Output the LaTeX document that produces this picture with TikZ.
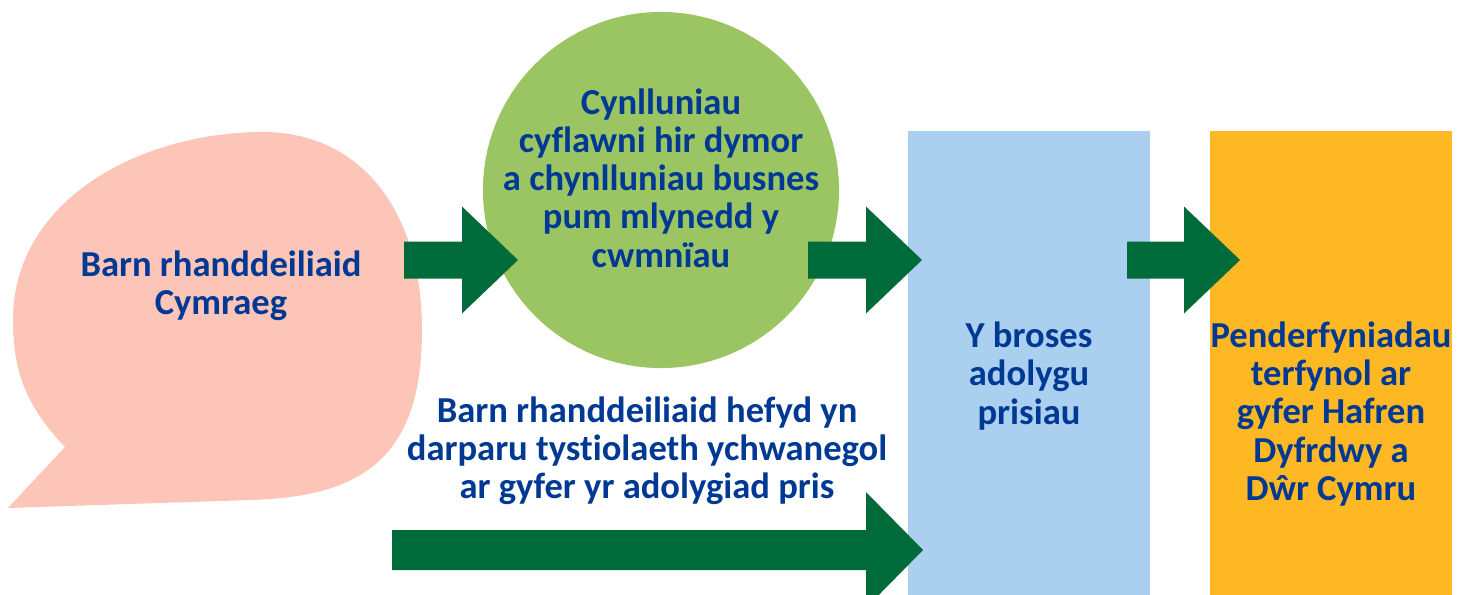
\documentclass[tikz,border=0pt]{standalone}
\usepackage{fontspec}
\setmainfont[Ligatures={NoCommon}]{Carlito}
\usetikzlibrary{calc}
\definecolor{opinionpink}{RGB}{253, 196, 184}
\definecolor{plangreen}{RGB}{155, 197, 99}
\definecolor{arrowgreen}{RGB}{0, 107, 58}
\definecolor{reviewblue}{RGB}{171, 207, 238}
\definecolor{decisionorange}{RGB}{253, 184, 35}
\definecolor{textblue}{RGB}{0, 57, 148}
\tikzset{
  label text/.style={text=textblue, align=center, inner sep=0pt,
    font=\bfseries\fontsize{26}{27.2}\selectfont},
  stage box/.style={rectangle, minimum width=6.05cm, minimum height=12.25cm, inner sep=0pt}
}
\newcommand{\bigarrow}[2]{%
  \fill[arrowgreen] ($(#1)+(0,-18.5)$) -- ($(#2)+(-56,-18.5)$) -- ($(#2)+(-56,-53.5)$)
    -- (#2) -- ($(#2)+(-56,53.5)$) -- ($(#2)+(-56,18.5)$) -- ($(#1)+(0,18.5)$) -- cycle;}

\begin{document}
\begin{tikzpicture}[x=0.025cm, y=-0.025cm]
  \useasboundingbox (0,0) rectangle (1465,594);
  \clip (0,0) rectangle (1465,594);

  \fill [opinionpink] (8,508) -- (65,447) .. controls (25,405) and (13,370) .. (13,320)
    .. controls (13,200) and (140,132) .. (263,132)
    .. controls (360,132) and (422,210) .. (422,330)
    .. controls (422,460) and (360,497) .. (250,500) -- cycle;
  \node [label text] (opinion) at (221,286) {Barn rhanddeiliaid\\Cymraeg};

  \node [circle, fill=plangreen, minimum size=8.9cm, inner sep=0pt] (plans) at (661,190) {};
  \node [label text] (planstext) at (661,178) {Cynlluniau\\cyflawni hir dymor\\a chynlluniau busnes\\pum mlynedd y\\cwmnïau};

  \node [stage box, fill=reviewblue] (review) at (1029,376) {};
  \node [label text] (reviewtext) at (1029,376) {Y broses\\adolygu\\prisiau};

  \node [stage box, fill=decisionorange] (decision) at (1331,376) {};
  \node [label text] (decisiontext) at (1331,414) {Penderfyniadau\\terfynol ar\\gyfer Hafren\\Dyfrdwy a\\Dŵr Cymru};

  \node [label text] (evidence) at (647,451) {Barn rhanddeiliaid hefyd yn\\darparu tystiolaeth ychwanegol\\ar gyfer yr adolygiad pris};

  \coordinate (a1s) at (404,260);
  \coordinate (a1t) at (518,260);
  \coordinate (a2s) at (808,260);
  \coordinate (a2t) at (922,260);
  \coordinate (a3s) at (1127,260);
  \coordinate (a3t) at (1240,260);
  \coordinate (a4s) at (392,550);
  \coordinate (a4t) at (923,550);
  \bigarrow{a1s}{a1t}
  \bigarrow{a2s}{a2t}
  \bigarrow{a3s}{a3t}
  \fill[arrowgreen] ($(a4s)+(0,-20)$) -- ($(a4t)+(-57,-20)$) -- ($(a4t)+(-57,-58)$)
    -- (a4t) -- ($(a4t)+(-57,58)$) -- ($(a4t)+(-57,20)$) -- ($(a4s)+(0,20)$) -- cycle;
\end{tikzpicture}
\end{document}
